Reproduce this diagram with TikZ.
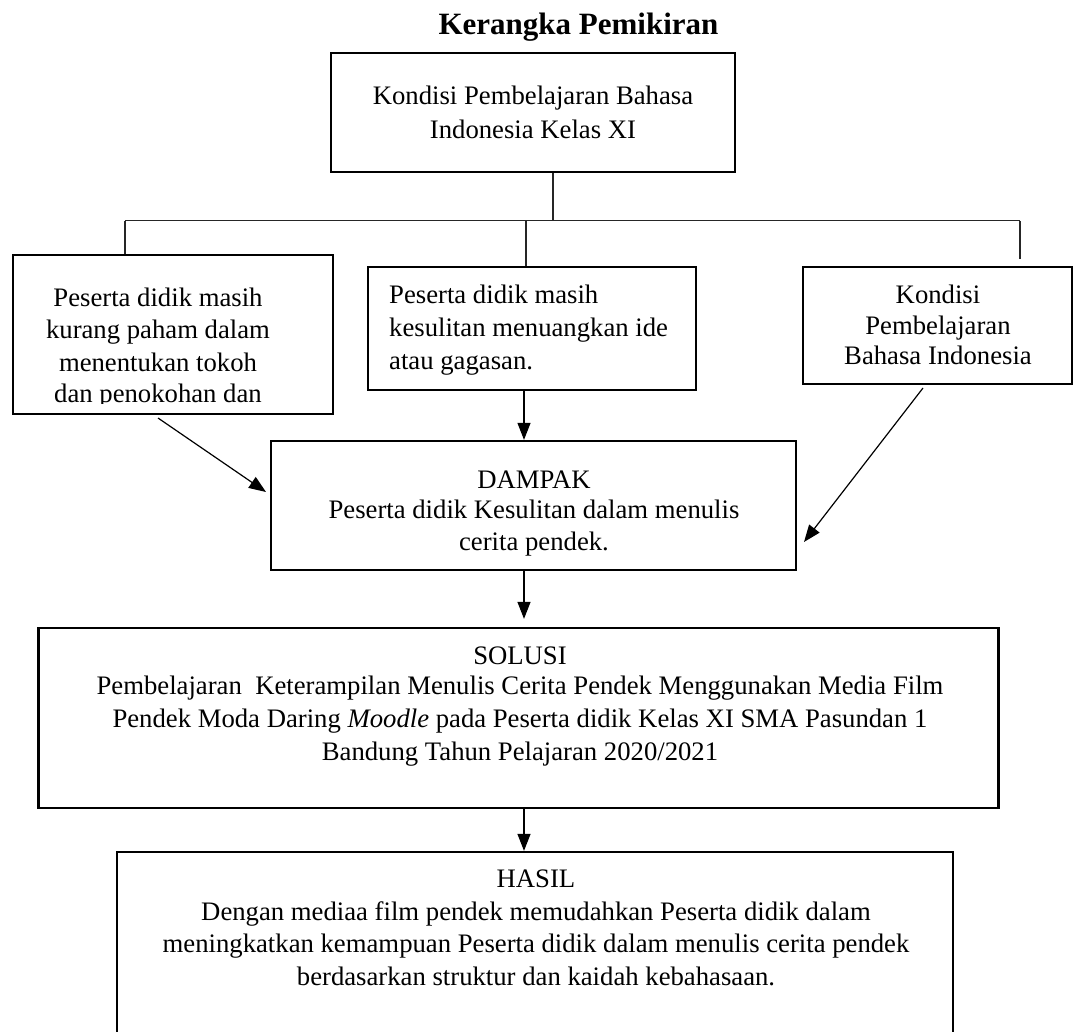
\documentclass[tikz,border=0pt]{standalone}
\usepackage{fontspec}
\setmainfont{Liberation Serif}
\usetikzlibrary{arrows.meta,calc}
\begin{document}
\begin{tikzpicture}[x=1pt,y=-1pt,
  boxnode/.style={draw=black,line width=2.3pt,inner sep=0pt,fill=none},
  txt/.style={inner sep=0pt,font={\fontsize{26.7}{31.5}\selectfont}},
  conn/.style={line width=1.2pt,draw=black!85},
  arr/.style={line width=1.2pt,draw=black,-{Triangle[length=17pt,width=13pt]}}]
\clip (0,0) rectangle (1074,1032);
\useasboundingbox (0,0) rectangle (1074,1032);

% title
\node[inner sep=0pt,anchor=base,font={\fontsize{31}{36}\selectfont\bfseries}] (title) at (578.5,35) {Kerangka Pemikiran};

% boxes
\node[boxnode,minimum width=404pt,minimum height=119pt] (tbox) at (533,112.5) {};
\node[boxnode,minimum width=320pt,minimum height=159pt] (lbox) at (173,334.5) {};
\node[boxnode,minimum width=328pt,minimum height=123pt] (mbox) at (532,328.5) {};
\node[boxnode,minimum width=269pt,minimum height=117pt] (rbox) at (937.5,325.5) {};
\node[boxnode,minimum width=525pt,minimum height=129pt] (dbox) at (533.5,505.5) {};
\node[boxnode,minimum width=960pt,minimum height=180pt] (sbox) at (518.5,718) {};
\node[boxnode,minimum width=836pt,minimum height=230pt] (hbox) at (535,967) {};

% texts
\node[txt,anchor=north,align=center] (ttext) at (533,84)
  {\rule{0pt}{20pt}Kondisi Pembelajaran Bahasa\\[2.5pt]Indonesia Kelas XI};
\begin{scope}
\clip (14,256) rectangle (332,403.5);
\node[txt,anchor=north,align=center] (ltext) at (158,286)
  {\rule{0pt}{20pt}Peserta didik masih\\[1pt]kurang paham dalam\\[1pt]menentukan tokoh\\[0pt]dan penokohan dan};
\end{scope}
\node[txt,anchor=north west,align=left] (mtext) at (389,283)
  {\rule{0pt}{20pt}Peserta didik masih\\[1.5pt]kesulitan menuangkan ide\\[1.5pt]atau gagasan.};
\node[txt,anchor=north,align=center] (rtext) at (938,283)
  {\rule{0pt}{20pt}Kondisi\\[-0.5pt]Pembelajaran\\[-1pt]Bahasa Indonesia};
\node[txt,anchor=north,align=center] (dtext) at (534,468)
  {\rule{0pt}{20pt}DAMPAK\\[-1.5pt]Peserta didik Kesulitan dalam menulis\\[0.5pt]cerita pendek.};
\node[txt,anchor=north,align=center] (stext) at (520,644)
  {\rule{0pt}{20pt}SOLUSI\\[-1.5pt]Pembelajaran~ Keterampilan Menulis Cerita Pendek Menggunakan Media Film\\[1.5pt]Pendek Moda Daring \textit{Moodle} pada Peserta didik Kelas XI SMA Pasundan 1\\[1.5pt]Bandung Tahun Pelajaran 2020/2021};
\node[txt,anchor=north,align=center] (htext) at (536,867)
  {\rule{0pt}{20pt}HASIL\\[1.5pt]Dengan mediaa film pendek memudahkan Peserta didik dalam\\[0.5pt]meningkatkan kemampuan Peserta didik dalam menulis cerita pendek\\[1.5pt]berdasarkan struktur dan kaidah kebahasaan.};

% connector coordinates
\coordinate (j0) at (553,221);
\coordinate (hl) at (125,221);
\coordinate (hr) at (1020,221);
\coordinate (jm) at (526,221);
\coordinate (rd) at (1020,259);
\coordinate (cx) at (524,0);
\coordinate (la1) at (158,418);
\coordinate (la2) at (266,492);
\coordinate (ra1) at (923,388);
\coordinate (ra2) at (804,542);

\draw[conn] (tbox.south -| j0) -- (j0);
\draw[conn,line width=1pt] (hl) -- (hr);
\draw[conn] (hl) -- (lbox.north -| hl);
\draw[conn] (jm) -- (mbox.north -| jm);
\draw[conn] (hr) -- (rd);

\draw[arr] (mbox.south -| cx) -- (dbox.north -| cx);
\draw[arr] (la1) -- (la2);
\draw[arr] (ra1) -- (ra2);
\draw[arr] (dbox.south -| cx) -- ($(sbox.north -| cx)+(0,-8)$);
\draw[arr] (sbox.south -| cx) -- (hbox.north -| cx);
\end{tikzpicture}
\end{document}
